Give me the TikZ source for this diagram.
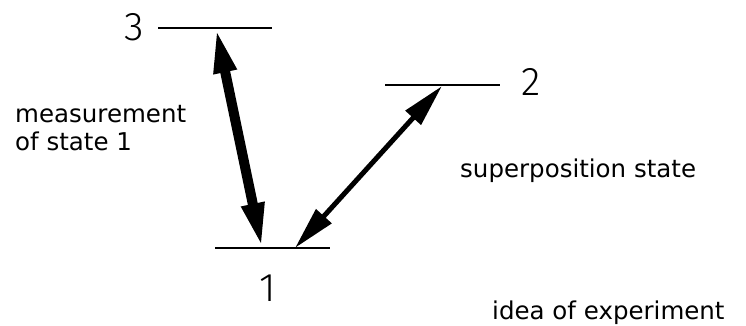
\documentclass[tikz,border=0pt]{standalone}
\usepackage{fontspec}
\setmainfont{DejaVu Sans}
\newfontfamily\digitfont{Fira Sans}[UprightFont={* Light}]
\usetikzlibrary{arrows.meta}
\tikzset{
  level/.style={line width=2pt, draw=black},
  digit/.style={inner sep=0pt, font=\digitfont\fontsize{40}{40}\selectfont},
  label/.style={inner sep=0pt, anchor=base west, font=\fontsize{24.5}{28}\selectfont},
  thickarrow/.style={line width=10pt, {Triangle[length=45pt,width=21pt]}-{Triangle[length=45pt,width=21pt]}},
  thinarrow/.style={line width=5pt, {Triangle[length=43pt,width=20pt]}-{Triangle[length=43pt,width=20pt]}}
}
\begin{document}
\begin{tikzpicture}[x=1pt,y=-1pt]
\useasboundingbox (0,0) rectangle (746,326);
% levels
\coordinate (l3a) at (158,28);
\coordinate (l3b) at (272,28);
\coordinate (l2a) at (385,85);
\coordinate (l2b) at (500,85);
\coordinate (l1a) at (215,248);
\coordinate (l1b) at (330,248);
\draw[level] (l3a) -- (l3b);
\draw[level] (l2a) -- (l2b);
\draw[level] (l1a) -- (l1b);
% arrow ends
\coordinate (a3) at (216,28);
\coordinate (a13) at (262,248);
\coordinate (a2) at (442,86);
\coordinate (a12) at (295,248);
\draw[thickarrow] (a3) -- (a13);
\draw[thinarrow] (a2) -- (a12);
% digits
\node[digit] (n3) at (134,27) {3};
\node[digit] (n2) at (531,82) {2};
\node[digit] (n1) at (268,288) {1};
% texts
\node[label] (meas) at (15,122) {measurement};
\node[label] (ofst) at (15,150) {of state 1};
\node[label] (sup) at (460,177) {superposition state};
\node[label] (idea) at (492,319) {idea of experiment};
\end{tikzpicture}
\end{document}
